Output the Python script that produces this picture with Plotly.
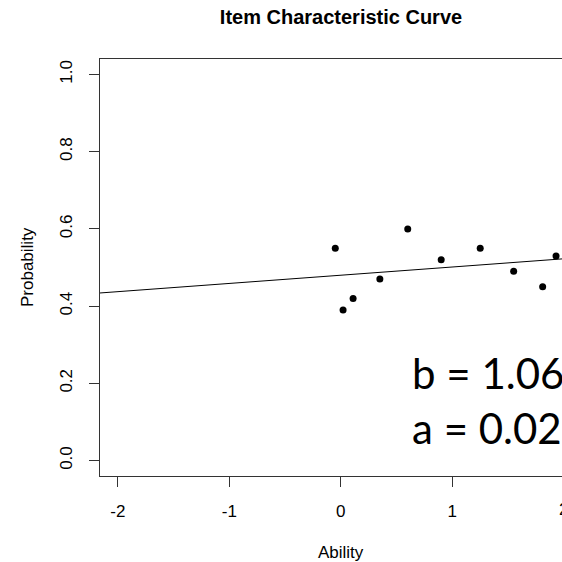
import plotly.graph_objects as go

# Data
ability = [-0.05, 0.02, 0.11, 0.35, 0.60, 0.90, 1.25, 1.55, 1.81, 1.93]
probability = [0.55, 0.39, 0.42, 0.47, 0.60, 0.52, 0.55, 0.49, 0.45, 0.53]
curve_x = [-2.16, 2.16]
curve_y = [0.434, 0.526]
x_ticks = [-2, -1, 0, 1, 2]
y_ticks = [0.0, 0.2, 0.4, 0.6, 0.8, 1.0]
b_text = "b = 1.06"
a_text = "a = 0.02"

W = H = 562
L, R, T, B = 100, 0, 59, 86
pw, ph = W - L - R, H - T - B
x0 = -2.16
xunit = 111.5
x1 = x0 + pw / xunit

def px_x(p):
    return (p - L) / pw

def px_y(p):
    return (H - B - p) / ph

font = "Liberation Sans, Arial, sans-serif"

fig = go.Figure()
fig.add_trace(go.Scatter(x=curve_x, y=curve_y, mode="lines",
                         line=dict(color="black", width=1), hoverinfo="skip"))
fig.add_trace(go.Scatter(x=ability, y=probability, mode="markers",
                         marker=dict(color="black", size=7)))

fig.update_layout(
    width=W, height=H, showlegend=False,
    margin=dict(l=L, r=R, t=T, b=B),
    paper_bgcolor="white", plot_bgcolor="white",
    font=dict(family=font, size=17, color="black"),
    title=dict(text="<b>Item Characteristic Curve</b>", xref="container", yref="container",
               x=341 / W, y=1 - 17 / H, xanchor="center", yanchor="middle",
               font=dict(family=font, size=20, color="black")),
    xaxis=dict(range=[x0, x1], tickvals=x_ticks[:-1], ticktext=[str(v) for v in x_ticks[:-1]],
               showgrid=False, zeroline=False, showline=True, mirror=True,
               linecolor="#333333", linewidth=1, ticks="outside", ticklen=10,
               tickcolor="#333333", ticklabelstandoff=10),
    yaxis=dict(range=[-0.04, 1.04], tickvals=y_ticks, ticktext=[f"{v:.1f}" for v in y_ticks],
               showgrid=False, zeroline=False, showline=True, mirror=False,
               linecolor="#333333", linewidth=1, ticks="outside", ticklen=10,
               tickcolor="#333333", tickangle=-90, ticklabelstandoff=10),
)

ann = []
# cut-off "2" tick label at right edge
ann.append(dict(text=str(x_ticks[-1]), xref="paper", yref="paper", x=px_x(563), y=px_y(509),
                xanchor="center", yanchor="middle", showarrow=False, font=dict(size=17)))
ann.append(dict(text="Ability", xref="paper", yref="paper", x=px_x(341), y=px_y(552),
                xanchor="center", yanchor="middle", showarrow=False, font=dict(size=17)))
ann.append(dict(text="Probability", xref="paper", yref="paper", x=px_x(27), y=px_y(267),
                xanchor="center", yanchor="middle", showarrow=False, textangle=-90,
                font=dict(size=17)))
ann.append(dict(text=b_text, xref="paper", yref="paper", x=px_x(410), y=px_y(373),
                xanchor="left", yanchor="middle", showarrow=False,
                font=dict(family="Lato, sans-serif", size=42, color="black")))
ann.append(dict(text=a_text, xref="paper", yref="paper", x=px_x(410), y=px_y(428),
                xanchor="left", yanchor="middle", showarrow=False,
                font=dict(family="Lato, sans-serif", size=42, color="black")))
fig.update_layout(annotations=ann)

fig.write_html("out.html")
